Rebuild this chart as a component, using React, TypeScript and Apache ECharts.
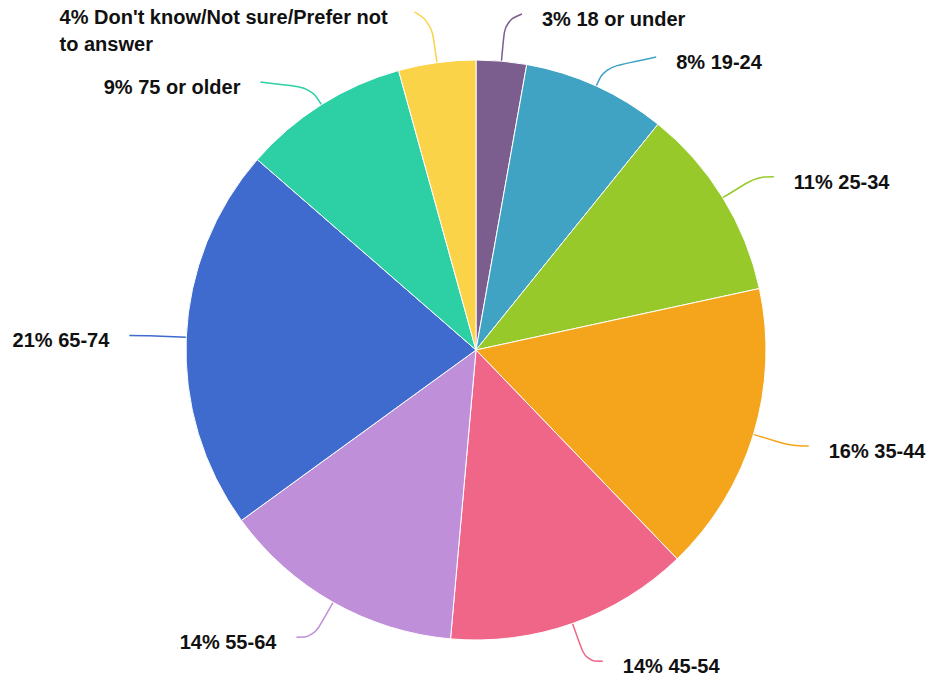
import React, { useEffect, useRef } from "react";
import * as echarts from "echarts";

const categories = [
  "18 or under",
  "19-24",
  "25-34",
  "35-44",
  "45-54",
  "55-64",
  "65-74",
  "75 or older",
  "Don't know/Not sure/Prefer not to answer",
];
const shares = [2.8, 8.0, 10.8, 16.2, 13.6, 13.6, 21.4, 9.3, 4.3];
const colors = [
  "#7b5e8e",
  "#41a3c4",
  "#97c92a",
  "#f4a51b",
  "#f06689",
  "#bf8fda",
  "#3e6bcd",
  "#2dcfa5",
  "#fbd348",
];

const FONT = "Liberation Sans, Arial, Helvetica, sans-serif";
const CX = 476;
const CY = 350;
const R = 290;
const LINE_LEN = 40;
const LINE_LEN2 = 17;
const BEND_LEN = 20;
const END_R = 344;
const GAP = 20;
const LINE_H = 27;
const V_GAP = 16;
const WRAP_INDEX = categories.length - 1;

type Slot = {
  i: number;
  ux: number;
  uy: number;
  side: number;
  y0: number;
  y: number;
  up: number;
  down: number;
};

function computeSlots(): Slot[] {
  const total = shares.reduce((a, b) => a + b, 0);
  let cum = 0;
  const slots: Slot[] = shares.map((v, i) => {
    const mid = ((cum + v / 2) / total) * Math.PI * 2;
    cum += v;
    const ux = Math.sin(mid);
    const uy = -Math.cos(mid);
    const y0 = CY + uy * (R + LINE_LEN);
    const multi = i === WRAP_INDEX;
    return {
      i,
      ux,
      uy,
      side: ux >= 0 ? 1 : -1,
      y0,
      y: y0,
      up: LINE_H / 2 - 5,
      down: LINE_H / 2 + 5 + (multi ? LINE_H : 0),
    };
  });
  [1, -1].forEach((side) => {
    const list = slots.filter((s) => s.side === side).sort((a, b) => a.y0 - b.y0);
    for (let iter = 0; iter < 30; iter++) {
      for (let k = 0; k < list.length - 1; k++) {
        const a = list[k];
        const b = list[k + 1];
        const need = a.down + V_GAP + b.up;
        const overlap = need - (b.y - a.y);
        if (overlap > 0) {
          a.y -= overlap / 2;
          b.y += overlap / 2;
        }
      }
    }
  });
  return slots;
}

export default function App() {
  const ref = useRef<HTMLDivElement>(null);
  useEffect(() => {
    document.body.style.margin = "0";
    const chart = echarts.init(ref.current!, undefined, { renderer: "svg" });
    const slots = computeSlots();
    chart.setOption({
      animation: false,
      backgroundColor: "#ffffff",
      series: [
        {
          type: "pie",
          center: [CX, CY],
          radius: R,
          startAngle: 90,
          clockwise: true,
          avoidLabelOverlap: true,
          data: categories.map((c, i) => ({
            name: c,
            value: shares[i],
            itemStyle: { color: colors[i] },
            label:
              i === WRAP_INDEX
                ? {
                    formatter: (p: any) =>
                      `{t|${Math.round(p.percent)}% ${p.name}}`,
                    width: 335,
                    overflow: "break",
                    rich: {
                      t: {
                        align: "left",
                        color: "#111111",
                        fontFamily: FONT,
                        fontWeight: "bold",
                        fontSize: 20,
                        lineHeight: LINE_H,
                      },
                    },
                  }
                : undefined,
          })),
          itemStyle: { borderColor: "#ffffff", borderWidth: 1 },
          label: {
            show: true,
            position: "outside",
            alignTo: "none",
            distanceToLabelLine: GAP,
            formatter: (p: any) => `${Math.round(p.percent)}% ${p.name}`,
            color: "#111111",
            fontFamily: FONT,
            fontWeight: "bold",
            fontSize: 20,
            lineHeight: LINE_H,
          },
          labelLine: {
            show: true,
            length: LINE_LEN,
            length2: LINE_LEN2,
            smooth: 0.4,
            lineStyle: { width: 1.5 },
          },
          labelLayout: (params: any) => {
            const s = slots[params.dataIndex];
            if (!s) return {};
            const p0 = [CX + s.ux * R, CY + s.uy * R];
            let p1 = [CX + s.ux * (R + LINE_LEN), CY + s.uy * (R + LINE_LEN)];
            let ex = CX + s.ux * (R + LINE_LEN) + s.side * LINE_LEN2;
            const towardEquator =
              s.y0 < CY ? s.y > s.y0 + 0.5 : s.y < s.y0 - 0.5;
            if (towardEquator) {
              const dy = s.y - CY;
              const cx = Math.sqrt(Math.max(END_R * END_R - dy * dy, 0));
              ex = CX + s.side * Math.max(cx, Math.abs(ex - CX));
              p1 = [CX + s.ux * (R + BEND_LEN), CY + s.uy * (R + BEND_LEN)];
            }
            const p2 = [ex, s.y];
            const multi = params.dataIndex === WRAP_INDEX;
            return {
              x: ex + s.side * GAP,
              y: multi ? s.y + 5 - LINE_H / 2 : s.y + 5,
              align: s.side > 0 ? "left" : "right",
              verticalAlign: multi ? "top" : "middle",
              labelLinePoints: [p0, p1, p2],
            };
          },
          emphasis: { disabled: true },
        },
      ],
    });
    return () => chart.dispose();
  }, []);
  return <div ref={ref} style={{ width: 928, height: 684 }} />;
}
